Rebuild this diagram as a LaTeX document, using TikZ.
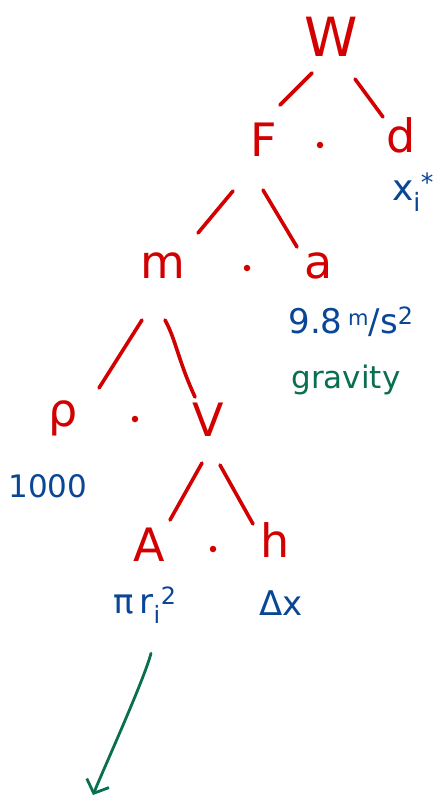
\documentclass[tikz,border=0pt]{standalone}
\usepackage{fontspec}
\setmainfont{DejaVu Sans}
\usetikzlibrary{arrows.meta}
\definecolor{inkred}{RGB}{210,0,0}
\definecolor{inkblue}{RGB}{10,70,150}
\definecolor{inkgreen}{RGB}{10,110,80}
\tikzset{
  var/.style={text=inkred, font=\fontsize{46}{50}\selectfont, inner sep=0pt, anchor=center},
  val/.style={text=inkblue, font=\fontsize{31}{34}\selectfont, inner sep=0pt, anchor=center},
  note/.style={text=inkgreen, font=\fontsize{31}{34}\selectfont, inner sep=0pt, anchor=center},
  edge/.style={draw=inkred, line width=3.6pt, line cap=round},
  dotmark/.style={circle, fill=inkred, inner sep=0pt, minimum size=6.5pt},
  link/.style={draw=inkgreen, line width=2.8pt, line cap=round, -{Straight Barb[length=11pt,width=24pt,line width=2.8pt]}}
}
\begin{document}
\begin{tikzpicture}[x=1pt,y=-1pt]
\path[use as bounding box, fill=white] (0,0) rectangle (440,801);
% red variables
\node[var, font=\fontsize{54}{58}\selectfont] (W) at (331,37) {W};
\node[var] (F) at (264,140) {F};
\node[dotmark] (d1) at (320,145) {};
\node[var] (d) at (401,135) {d};
\node[var] (m) at (163,266) {m};
\node[dotmark] (d2) at (247,268) {};
\node[var] (a) at (319,266) {a};
\node[var] (rho) at (63,418) {ρ};
\node[dotmark] (d3) at (135,419) {};
\node[var] (V) at (208,420) {V};
\node[var] (A) at (149,545) {A};
\node[dotmark] (d4) at (213,549) {};
\node[var] (h) at (275,540) {h};
% blue values
\node[val, font=\fontsize{36}{40}\selectfont] (xi) at (413,192) {x\textsubscript{i}\textsuperscript{*}};
\node[val, font=\fontsize{34}{38}\selectfont] (g) at (351,322) {9.8\,\raisebox{8pt}{\fontsize{21}{24}\selectfont m}/s\textsuperscript{2}};
\node[note] (grav) at (346,380) {gravity};
\node[val] (thousand) at (48,486) {1000};
\node[val, font=\fontsize{34}{38}\selectfont] (pir) at (145,605) {π\,r\textsubscript{i}\textsuperscript{2}};
\node[val, font=\fontsize{34}{38}\selectfont] (dx) at (281,603) {Δx};
% tree strokes
\coordinate (wf1) at (312,73);  \coordinate (wf2) at (280,105);
\coordinate (wd1) at (355,79);  \coordinate (wd2) at (383,117);
\coordinate (fm1) at (233,191); \coordinate (fm2) at (198,233);
\coordinate (fa1) at (263,190); \coordinate (fa2) at (297,247);
\coordinate (mr1) at (142,320); \coordinate (mr2) at (99,388);
\coordinate (mv1) at (165,320); \coordinate (mv2) at (195,397);
\coordinate (va1) at (202,463); \coordinate (va2) at (170,520);
\coordinate (vh1) at (220,465); \coordinate (vh2) at (253,524);
\draw[edge] (wf1) -- (wf2);
\draw[edge] (wd1) -- (wd2);
\draw[edge] (fm1) -- (fm2);
\draw[edge] (fa1) -- (fa2);
\draw[edge] (mr1) -- (mr2);
\draw[edge] (mv1) .. controls (176,340) and (178,360) .. (mv2);
\draw[edge] (va1) -- (va2);
\draw[edge] (vh1) -- (vh2);
% green arrow
\coordinate (arrEnd) at (93,795);
\draw[link] (pir.south) ++(6,30) coordinate (arrStart) .. controls (144,680) and (104,768) .. (arrEnd);
\end{tikzpicture}
\end{document}
